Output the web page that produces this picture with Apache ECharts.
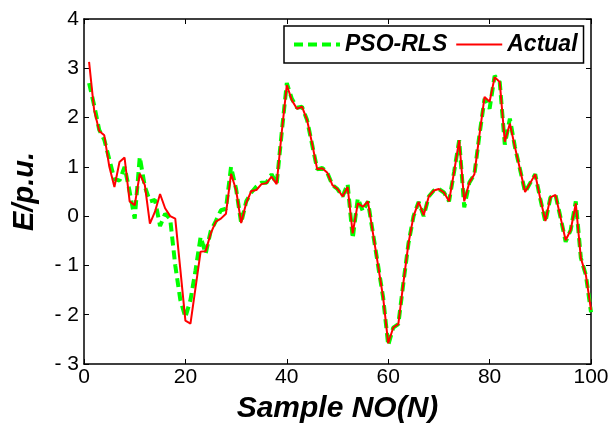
<!DOCTYPE html>
<html>
<head>
<meta charset="utf-8">
<script src="https://cdn.jsdelivr.net/npm/echarts@6/dist/echarts.min.js"></script>
<style>
html,body{margin:0;padding:0;background:#fff;}
#chart{width:612px;height:424px;}
</style>
</head>
<body>
<div id="chart"></div>
<script>
var sampleNo = [1,2,3,4,5,6,7,8,9,10,11,12,13,14,15,16,17,18,19,20,
  21,22,23,24,25,26,27,28,29,30,31,32,33,34,35,36,37,38,39,40,
  41,42,43,44,45,46,47,48,49,50,51,52,53,54,55,56,57,58,59,60,
  61,62,63,64,65,66,67,68,69,70,71,72,73,74,75,76,77,78,79,80,
  81,82,83,84,85,86,87,88,89,90,91,92,93,94,95,96,97,98,99,100];

var actual = [3.13,2.15,1.73,1.64,1.00,0.59,1.10,1.19,0.30,0.22,
  0.86,0.63,-0.15,0.09,0.45,0.16,0.00,-0.05,-1.08,-2.12,
  -2.18,-1.45,-0.72,-0.71,-0.35,-0.11,-0.05,0.05,0.86,0.53,
  -0.14,0.27,0.51,0.53,0.65,0.67,0.80,0.65,1.70,2.66,
  2.35,2.18,2.22,1.95,1.47,0.95,0.97,0.88,0.63,0.55,
  0.40,0.59,-0.35,0.26,0.19,0.30,-0.35,-1.00,-1.65,-2.58,
  -2.26,-2.19,-1.35,-0.55,0.00,0.29,0.02,0.40,0.52,0.55,
  0.48,0.30,0.90,1.54,0.30,0.68,0.85,1.65,2.42,2.32,
  2.82,2.72,1.51,1.88,1.40,0.95,0.49,0.67,0.85,0.35,
  -0.10,0.38,0.43,-0.03,-0.49,-0.28,0.26,-0.85,-1.20,-1.90];

var psoRls = [2.70,2.25,1.75,1.55,1.15,0.75,0.72,1.00,0.50,-0.05,
  1.20,0.60,0.30,0.33,-0.20,0.05,-0.06,-1.00,-1.70,-2.05,
  -1.70,-1.10,-0.42,-0.76,-0.30,-0.10,0.12,0.15,1.00,0.55,
  -0.14,0.30,0.48,0.60,0.68,0.68,0.85,0.65,1.70,2.70,
  2.38,2.20,2.22,1.95,1.45,0.95,0.98,0.88,0.63,0.55,
  0.40,0.65,-0.45,0.36,0.10,0.30,-0.35,-1.00,-1.65,-2.62,
  -2.26,-2.19,-1.35,-0.55,0.00,0.29,0.00,0.40,0.52,0.55,
  0.48,0.30,0.90,1.54,0.18,0.68,0.85,1.65,2.38,2.18,
  2.85,2.72,1.45,1.98,1.40,0.95,0.49,0.67,0.85,0.35,
  -0.12,0.38,0.43,-0.03,-0.52,-0.28,0.30,-0.85,-1.20,-1.95];

var seriesNames = ['PSO-RLS', 'Actual'];
var xTitle = 'Sample NO(N)';
var yTitle = 'E/p.u.';

function pairs(xs, ys) {
  var out = [];
  for (var i = 0; i < xs.length; i++) out.push([xs[i], ys[i]]);
  return out;
}

var FONT = "'Liberation Sans', Arial, Helvetica, sans-serif";
var axisLineStyle = { color: '#000', width: 1.5 };

var chart = echarts.init(document.getElementById('chart'), null, { renderer: 'canvas' });
chart.setOption({
  animation: false,
  backgroundColor: '#fff',
  grid: { left: 84, right: 21, top: 19, bottom: 60, containLabel: false, outerBoundsMode: 'none' },
  legend: {
    left: 284, top: 26,
    orient: 'horizontal',
    data: seriesNames,
    backgroundColor: '#fff',
    borderColor: '#000', borderWidth: 1.5, borderRadius: 0,
    padding: [7, 6, 7, 8],
    itemWidth: 46, itemHeight: 22, itemGap: 8,
    itemStyle: { opacity: 0, borderWidth: 0 },
    lineStyle: { width: 'inherit', type: 'inherit', color: 'inherit' },
    textStyle: { fontFamily: FONT, fontSize: 23, fontWeight: 'bold', fontStyle: 'italic', color: '#000' }
  },
  xAxis: [{
    type: 'value', min: 0, max: 100, interval: 20, position: 'bottom',
    name: xTitle, nameLocation: 'middle', nameGap: 30,
    nameTextStyle: { fontFamily: FONT, fontSize: 30, fontWeight: 'bold', fontStyle: 'italic', color: '#000' },
    axisLine: { show: true, onZero: false, lineStyle: axisLineStyle },
    axisTick: { show: true, inside: true, length: 5, lineStyle: { color: '#000', width: 1 } },
    axisLabel: { fontFamily: FONT, fontSize: 21, color: '#000', margin: 3 },
    splitLine: { show: false }
  }, {
    type: 'value', min: 0, max: 100, interval: 20, position: 'top',
    axisLine: { show: true, onZero: false, lineStyle: axisLineStyle },
    axisTick: { show: true, inside: true, length: 5, lineStyle: { color: '#000', width: 1 } },
    axisLabel: { show: false }, splitLine: { show: false }
  }],
  yAxis: [{
    type: 'value', min: -3, max: 4, interval: 1, position: 'left',
    name: yTitle, nameLocation: 'middle', nameGap: 45, nameRotate: 90,
    nameTextStyle: { fontFamily: FONT, fontSize: 29, fontWeight: 'bold', fontStyle: 'italic', color: '#000' },
    axisLine: { show: true, onZero: false, lineStyle: axisLineStyle },
    axisTick: { show: true, inside: true, length: 5, lineStyle: { color: '#000', width: 1 } },
    axisLabel: {
      fontFamily: FONT, fontSize: 21, color: '#000', margin: 5,
      formatter: function (v) { return v < 0 ? '- ' + Math.abs(v) : String(v); }
    },
    splitLine: { show: false }
  }, {
    type: 'value', min: -3, max: 4, interval: 1, position: 'right',
    axisLine: { show: true, onZero: false, lineStyle: axisLineStyle },
    axisTick: { show: true, inside: true, length: 5, lineStyle: { color: '#000', width: 1 } },
    axisLabel: { show: false }, splitLine: { show: false }
  }],
  series: [{
    name: seriesNames[0], type: 'line', xAxisIndex: 0, yAxisIndex: 0,
    data: pairs(sampleNo, psoRls),
    symbol: 'none', showSymbol: false,
    lineStyle: { color: '#00ff00', width: 4, type: [9, 5] },
    itemStyle: { color: '#00ff00' },
    z: 2
  }, {
    name: seriesNames[1], type: 'line', xAxisIndex: 0, yAxisIndex: 0,
    data: pairs(sampleNo, actual),
    symbol: 'none', showSymbol: false,
    lineStyle: { color: '#ff0000', width: 2, type: 'solid' },
    itemStyle: { color: '#ff0000' },
    z: 3
  }]
});
</script>
</body>
</html>
